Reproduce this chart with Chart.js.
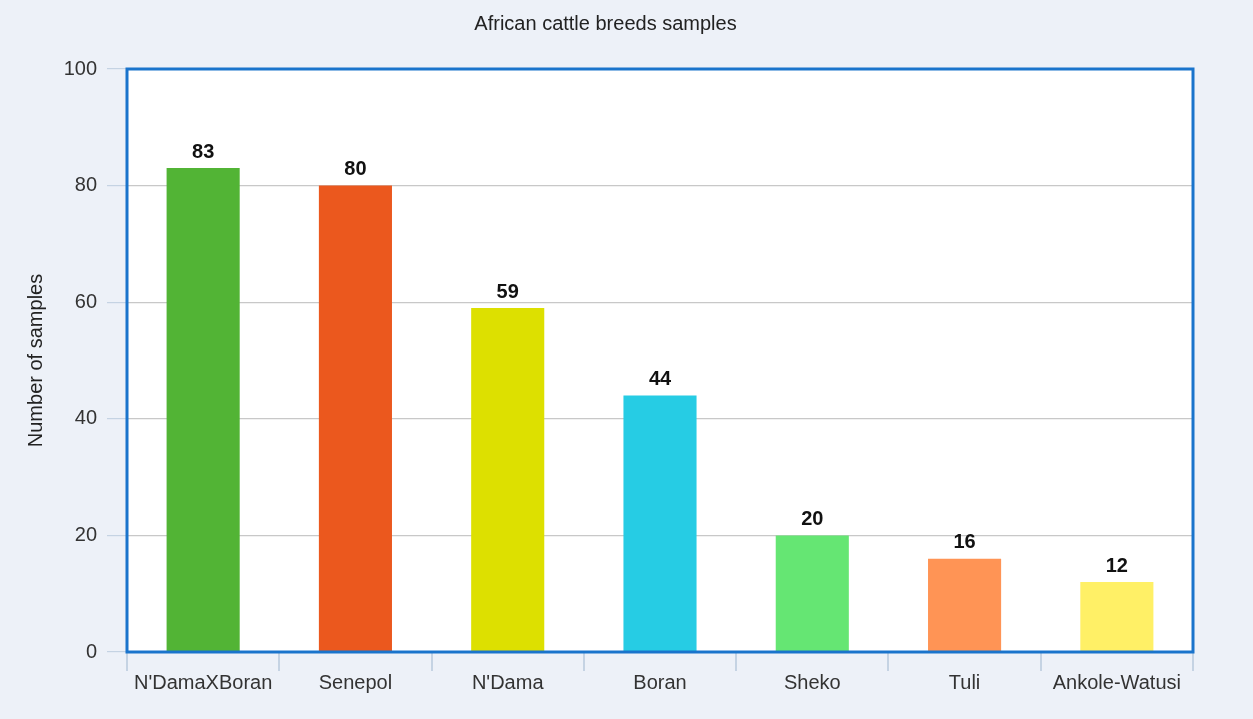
<!DOCTYPE html>
<html>
<head>
<meta charset="utf-8">
<script src="https://cdn.jsdelivr.net/npm/chart.js@4.4.0/dist/chart.umd.min.js"></script>
<style>
    html, body { margin: 0; padding: 0; background: #edf1f8; }
    #wrap { width: 1253px; height: 719px; }
</style>
</head>
<body>
<div id="wrap"><canvas id="graphCanvas"></canvas></div>
<script>
var breeds = ["N'DamaXBoran", 'Senepol', "N'Dama", 'Boran', 'Sheko', 'Tuli', 'Ankole-Watusi'];
var samples = [83, 80, 59, 44, 20, 16, 12];
var barColors = ['#52b435', '#eb581e', '#dde000', '#26cce4', '#65e673', '#ff9455', '#fff066'];
var yTicks = [0, 20, 40, 60, 80, 100];

Chart.defaults.font.family = '"Liberation Sans", Arial, sans-serif';
Chart.defaults.font.size = 20;
Chart.defaults.color = '#333333';

// page background, white plot area and the blue frame
var framePlugin = {
    id: 'frame',
    beforeDraw: function (chart) {
        var ctx = chart.ctx, a = chart.chartArea;
        ctx.save();
        ctx.fillStyle = '#edf1f8';
        ctx.fillRect(0, 0, chart.width, chart.height);
        ctx.fillStyle = '#ffffff';
        ctx.fillRect(a.left, a.top, a.right - a.left, a.bottom - a.top);
        ctx.restore();
    },
    afterDraw: function (chart) {
        var ctx = chart.ctx, a = chart.chartArea;
        ctx.save();
        ctx.strokeStyle = '#1a74cc';
        ctx.lineWidth = 3;
        ctx.strokeRect(a.left, a.top, a.right - a.left, a.bottom - a.top);
        ctx.restore();
    }
};

// value on top of every bar
var valueLabels = {
    id: 'valueLabels',
    afterDatasetsDraw: function (chart) {
        var ctx = chart.ctx;
        var meta = chart.getDatasetMeta(0);
        ctx.save();
        ctx.font = 'bold 20px "Liberation Sans", Arial, sans-serif';
        ctx.fillStyle = '#111111';
        ctx.textAlign = 'center';
        ctx.textBaseline = 'bottom';
        meta.data.forEach(function (bar, i) {
            ctx.fillText(samples[i], bar.x, bar.y - 6);
        });
        ctx.restore();
    }
};

var chartdata = {
    labels: breeds,
    datasets: [
        {
            label: 'Samples',
            backgroundColor: barColors,
            borderWidth: 0,
            barPercentage: 0.48,
            categoryPercentage: 1,
            data: samples
        }
    ]
};

var graphTarget = document.getElementById('graphCanvas');

var barGraph = new Chart(graphTarget, {
    type: 'bar',
    data: chartdata,
    options: {
        responsive: true,
        maintainAspectRatio: false,
        animation: false,
        layout: { padding: { left: 18, right: 60, top: 4, bottom: 0 } },
        plugins: {
            legend: { display: false },
            tooltip: { enabled: false },
            title: {
                display: true,
                text: 'African cattle breeds samples',
                color: '#222222',
                font: { size: 20, weight: 'normal' },
                padding: { top: 8, bottom: 33 }
            }
        },
        scales: {
            x: {
                grid: {
                    offset: true,
                    drawOnChartArea: false,
                    tickColor: '#c5d3e3',
                    tickLength: 19,
                    lineWidth: 2
                },
                border: { display: false },
                ticks: { padding: 0, color: '#333333' },
                afterFit: function (scale) { scale.height = 67; }
            },
            y: {
                min: 0,
                max: 100,
                afterBuildTicks: function (scale) {
                    scale.ticks = yTicks.map(function (v) { return { value: v }; });
                },
                grid: {
                    color: '#c8c8c8',
                    tickColor: '#c5d3e3',
                    tickLength: 20,
                    lineWidth: 1.2
                },
                border: { display: false },
                ticks: { padding: 10, color: '#333333' },
                title: {
                    display: true,
                    text: 'Number of samples',
                    color: '#222222',
                    font: { size: 20 },
                    padding: { top: 6, bottom: 0 }
                },
                afterFit: function (scale) { scale.width = 109; }
            }
        }
    },
    plugins: [framePlugin, valueLabels]
});
</script>
</body>
</html>
